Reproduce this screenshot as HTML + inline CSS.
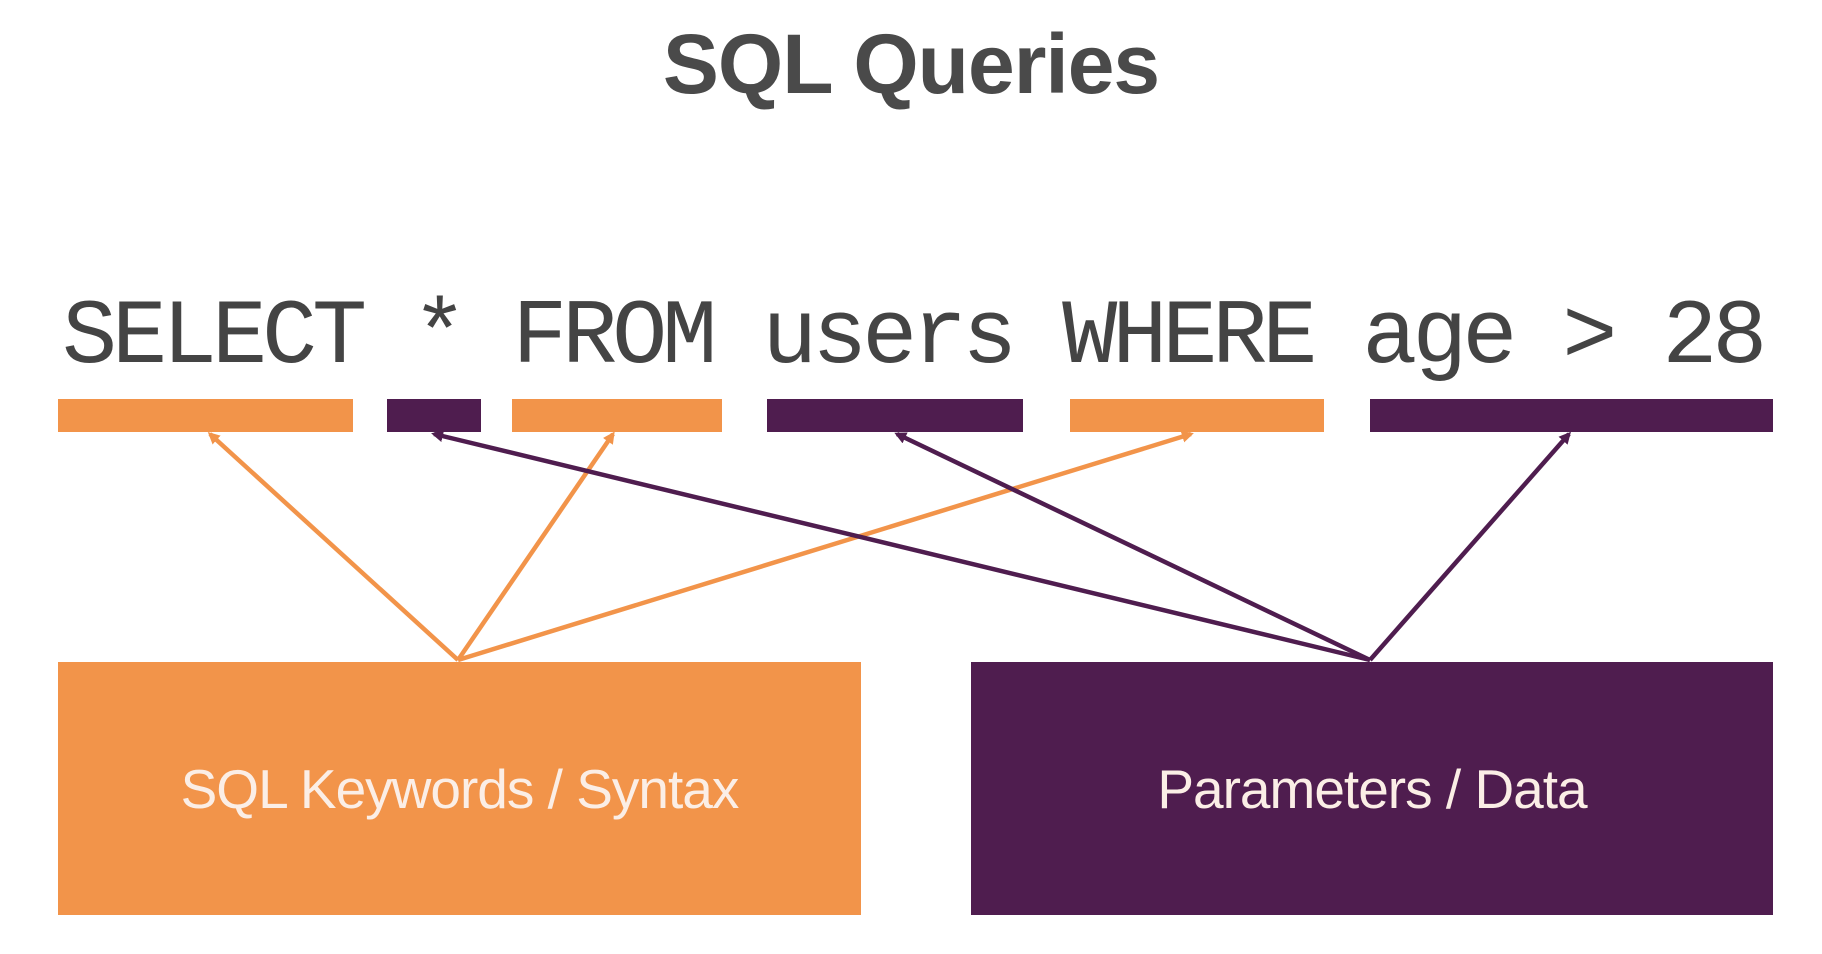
<!DOCTYPE html>
<html><head><meta charset="utf-8"><style>
body{margin:0;width:1822px;height:954px;background:#fff;overflow:hidden;position:relative;font-family:"Liberation Sans",sans-serif}
.t{position:absolute;left:0;width:1822px;text-align:center;top:16px;font-size:84px;font-weight:bold;color:#4a4a4a;letter-spacing:-1px}
.code{position:absolute;left:62px;top:292px;font-family:"Liberation Mono",monospace;font-size:92px;letter-spacing:-5.2px;color:#444;white-space:pre;line-height:1}
.box{position:absolute;top:662px;height:253px;display:flex;align-items:center;justify-content:center;font-size:55px;color:#fbeee6;letter-spacing:-1px}
</style></head><body>
<div class="t">SQL Queries</div>
<div class="code">SELECT * FROM users WHERE age &gt; 28</div>
<svg width="1822" height="954" style="position:absolute;left:0;top:0">
<defs>
<marker id="ao" markerWidth="12" markerHeight="12" refX="9" refY="6" orient="auto" markerUnits="userSpaceOnUse"><path d="M0,0 L12,6 L0,12z" fill="#F2944A"/></marker>
<marker id="ap" markerWidth="12" markerHeight="12" refX="9" refY="6" orient="auto" markerUnits="userSpaceOnUse"><path d="M0,0 L12,6 L0,12z" fill="#4F1D4F"/></marker>
</defs>
<g fill="#F2944A"><rect x="58" y="399" width="295" height="33"/><rect x="512" y="399" width="210" height="33"/><rect x="1070" y="399" width="254" height="33"/></g>
<g fill="#4F1D4F"><rect x="387" y="399" width="94" height="33"/><rect x="767" y="399" width="256" height="33"/><rect x="1370" y="399" width="403" height="33"/></g>
<g stroke="#F2944A" stroke-width="4.5" marker-end="url(#ao)">
<line x1="458" y1="660" x2="210" y2="434"/><line x1="458" y1="660" x2="613" y2="434"/><line x1="458" y1="660" x2="1191" y2="434"/></g>
<g stroke="#4F1D4F" stroke-width="4.5" marker-end="url(#ap)">
<line x1="1370" y1="660" x2="434" y2="434"/><line x1="1370" y1="660" x2="897" y2="434"/><line x1="1370" y1="660" x2="1569" y2="434"/></g>
</svg>
<div class="box" style="left:58px;width:803px;background:#F2944A">SQL Keywords / Syntax</div>
<div class="box" style="left:971px;width:802px;background:#4F1D4F">Parameters / Data</div>
</body></html>
